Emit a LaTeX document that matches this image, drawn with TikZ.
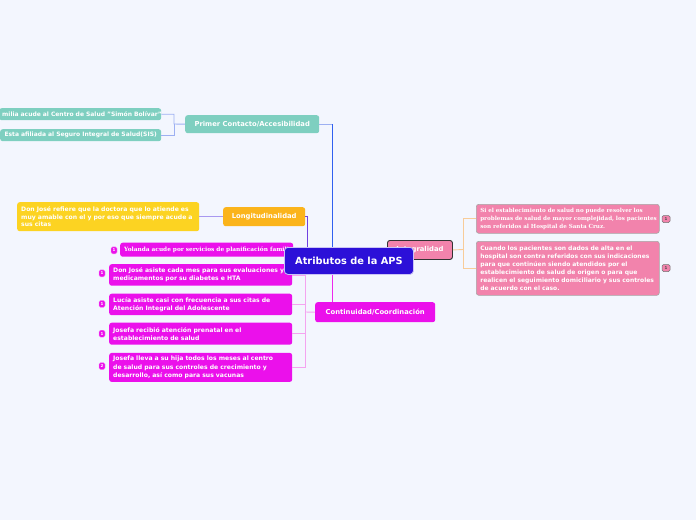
\documentclass[tikz,border=0pt]{standalone}
\usepackage{fontspec}
\setmainfont{DejaVu Sans}
\newfontfamily\serifbf{DejaVu Serif}
\newcommand\oneln[1]{\mbox{#1}}
\definecolor{bg}{HTML}{F3F6FE}
\definecolor{central}{HTML}{2C10D8}
\definecolor{teal}{HTML}{7ECFC0}
\definecolor{orange}{HTML}{FBB41B}
\definecolor{yellow}{HTML}{FCD322}
\definecolor{magenta}{HTML}{EB10EB}
\definecolor{pink}{HTML}{F283AC}
\definecolor{lblue}{HTML}{9DB0F2}
\definecolor{blue}{HTML}{3060F0}
\definecolor{purple}{HTML}{7040E0}
\definecolor{lpurple}{HTML}{A898F0}
\definecolor{lmag}{HTML}{F4A4F0}
\definecolor{lorange}{HTML}{F8CC99}
\tikzset{
  txtbox/.style={rounded corners=2.5pt, text=white, font=\bfseries\fontsize{6.1}{8.1}\selectfont,
    align=left, inner xsep=4pt, inner ysep=0pt, anchor=north west},
  headbox/.style={rounded corners=2.5pt, text=white, font=\bfseries\fontsize{6.8}{8}\selectfont,
    align=center, inner sep=0pt, anchor=north west},
  badgem/.style={rounded corners=1.5pt, fill=magenta, draw=magenta!45, line width=0.4pt,
    minimum width=6pt, minimum height=7pt, inner sep=0pt, text=white, font=\bfseries\fontsize{4}{4}\selectfont},
  badgep/.style={rounded corners=1.5pt, fill=pink, draw=black!55, line width=0.5pt,
    minimum width=8pt, minimum height=7pt, inner sep=0pt, text=black!70, font=\bfseries\fontsize{4}{4}\selectfont},
  link/.style={line width=0.9pt}
}
\begin{document}
\begin{tikzpicture}[x=1pt,y=-1pt]
\useasboundingbox (0,0) rectangle (696,520);
\fill[bg] (0,0) rectangle (696,520);
\clip (0,0) rectangle (696,520);

% ---------- nodes (branches) ----------
\node[headbox, fill=teal, minimum width=134pt, minimum height=18pt] (pc) at (185,115) {Primer Contacto/Accesibilidad};
\node[txtbox, fill=teal, text width=156pt, minimum height=12pt, align=right, inner xsep=3pt, font=\bfseries\fontsize{6}{8}\selectfont] (pc1) at (-1,108) {\oneln{milia acude al Centro de Salud "Simón Bolívar"}};
\node[txtbox, fill=teal, text width=155pt, minimum height=12pt, align=center, inner xsep=3pt, font=\bfseries\fontsize{6}{8}\selectfont] (pc2) at (0,129) {\oneln{Esta afiliada al Seguro Integral de Salud(SIS)}};

\node[headbox, fill=orange, minimum width=82pt, minimum height=19pt] (lg) at (223,207) {Longitudinalidad};
\node[txtbox, fill=yellow, text width=174pt, minimum height=29pt, font=\bfseries\fontsize{6.1}{7.7}\selectfont] (lg1) at (17,202) {\oneln{Don José refiere que la doctora que lo atiende es}\\\oneln{muy amable con el y por eso que siempre acude a}\\sus citas};

\node[headbox, fill=magenta, minimum width=120pt, minimum height=20pt] (co) at (315,302) {Continuidad/Coordinación};
\node[txtbox, fill=magenta, minimum width=173pt, minimum height=14pt] (co1) at (120,242.5) {};
\begin{scope}
\clip[rounded corners=2.5pt] (co1.north west) rectangle (co1.south east);
\node[anchor=west, inner sep=0pt, text=white, font=\serifbf\bfseries\fontsize{5.8}{7}\selectfont] (co1t) at (124,249.5) {Yolanda acude por servicios de planificación familiar};
\end{scope}
\node[txtbox, fill=magenta, text width=175pt, minimum height=21.5pt] (co2) at (109,264) {\oneln{Don José asiste cada mes para sus evaluaciones y}\\medicamentos por su diabetes e HTA};
\node[txtbox, fill=magenta, text width=175pt, minimum height=21.5pt] (co3) at (109,293.5) {\oneln{Lucía asiste casi con frecuencia a sus citas de}\\Atención Integral del Adolescente};
\node[txtbox, fill=magenta, text width=175pt, minimum height=22pt] (co4) at (109,322.5) {Josefa recibió atención prenatal en el\\establecimiento de salud};
\node[txtbox, fill=magenta, text width=175pt, minimum height=29pt] (co5) at (109,352.7) {\oneln{Josefa lleva a su hija todos los meses al centro}\\\oneln{de salud para sus controles de crecimiento y}\\\oneln{desarrollo, así como para sus vacunas}};

\node[badgem] (bm1) at (114,250.3) {1};
\node[badgem] (bm2) at (102,273.4) {1};
\node[badgem] (bm3) at (102,303.9) {1};
\node[badgem] (bm4) at (102,333.7) {1};
\node[badgem] (bm5) at (102,366.2) {2};

\node[headbox, fill=pink, draw=black!80, line width=0.9pt, minimum width=65pt, minimum height=19pt] (in) at (387,240) {Integralidad};
\node[txtbox, fill=pink, draw=black!35, line width=0.6pt, text width=175pt, minimum height=29pt, font=\serifbf\bfseries\fontsize{5.6}{8}\selectfont] (in1) at (476,204) {\oneln{Si el establecimiento de salud no puede resolver los}\\\oneln{problemas de salud de mayor complejidad, los pacientes}\\\oneln{son referidos al Hospital de Santa Cruz.}};
\node[txtbox, fill=pink, draw=black!35, line width=0.6pt, text width=175pt, minimum height=54pt, font=\bfseries\fontsize{6.0}{8.15}\selectfont] (in2) at (476,241) {\oneln{Cuando los pacientes son dados de alta en el}\\\oneln{hospital son contra referidos con sus indicaciones}\\\oneln{para que continúen siendo atendidos por el}\\\oneln{establecimiento de salud de origen o para que}\\\oneln{realicen el seguimiento domiciliario y sus controles}\\\oneln{de acuerdo con el caso.}};
\node[badgep] (bp1) at (666,219) {1};
\node[badgep] (bp2) at (666,268) {1};

% ---------- connectors ----------
\coordinate (pcj) at (174,124);
\draw[link, lblue] (pc.west) -- (pcj) |- (pc1.east);
\draw[link, lblue] (pcj) |- (pc2.east);
\coordinate (cpc) at (332,247);
\draw[link, lblue] (pc.east) -- (pc.east -| cpc);
\draw[link, blue] (pc.east -| cpc) -- (cpc);

\coordinate (clg) at (307,247);
\draw[link, lpurple] (lg.west) -- (lg1.east);
\draw[link, purple] (lg.east) -| (clg);

\coordinate (cco) at (332,274);
\draw[link, magenta!90!white] (cco) -- (cco |- co.north);
\coordinate (coj) at (305,312);
\draw[link, lmag] (co.west) -- (coj);
\draw[link, lmag] (coj) |- (co1.east);
\draw[link, lmag] (coj) |- (co2.east);
\draw[link, lmag] (coj) |- (co3.east);
\draw[link, lmag] (coj) |- (co4.east);
\draw[link, lmag] (coj) |- (co5.east);

\coordinate (inj) at (463,249.5);
\draw[link, lorange] (in.east) -- (inj);
\draw[link, lorange] (inj) |- (in1.west);
\draw[link, lorange] (inj) |- (in2.west);

% ---------- central ----------
\node[headbox, fill=central, draw=central!25, line width=0.8pt, minimum width=129pt, minimum height=27pt,
  rounded corners=3.5pt, font=\bfseries\fontsize{9.8}{11}\selectfont] (c) at (284,247) {Atributos de la APS};
\end{tikzpicture}
\end{document}
